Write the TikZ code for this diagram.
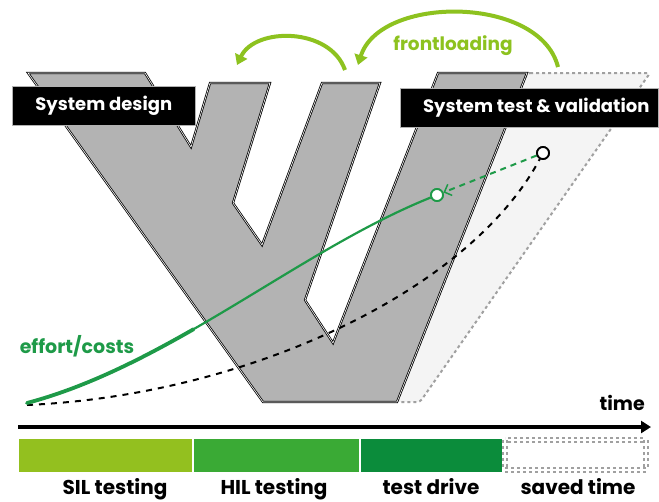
\documentclass[tikz,border=0pt]{standalone}
\usepackage{fontspec}
\setmainfont{Poppins}
\usetikzlibrary{arrows.meta}
\definecolor{wgray}{HTML}{B3B3B3}
\definecolor{lgray}{HTML}{F4F4F4}
\definecolor{dgray}{HTML}{A0A0A0}
\definecolor{flgreen}{HTML}{8DC21F}
\definecolor{cgreen}{HTML}{1E9A48}
\definecolor{silc}{HTML}{93C01F}
\definecolor{hilc}{HTML}{3AAA35}
\definecolor{tdc}{HTML}{0B8C3B}
\tikzset{
  wshape/.style={fill=wgray, draw=black, line width=0.8pt, double=white, double distance=0.6pt, line join=miter},
  savedarea/.style={fill=lgray, draw=dgray, dashed, line width=2pt, rounded corners=3pt},
  labelbox/.style={fill=black, text=white, font=\fontsize{18}{20}\selectfont\bfseries, inner sep=0pt, minimum height=39pt, draw=gray!60, line width=0.6pt},
  flarrow/.style={draw=flgreen, line width=4pt, -{Triangle[width=13pt,length=10pt]}},
  fltext/.style={text=flgreen, font=\fontsize{18.5}{20}\selectfont\bfseries},
  effort/.style={draw=cgreen, line width=2.2pt},
  effortthick/.style={draw=cgreen, line width=3.8pt, line cap=round},
  costdash/.style={draw=black, line width=2pt, dash pattern=on 6pt off 6pt},
  greendash/.style={draw=cgreen, line width=2pt, dash pattern=on 6pt off 5pt, -{Straight Barb[length=6pt,width=12pt,line width=1.5pt]}},
  pointc/.style={circle, fill=white, line width=1.8pt, minimum size=12pt, inner sep=0pt},
  timearrow/.style={draw=black, line width=4.5pt, -{Triangle[width=12pt,length=10pt]}},
  bar/.style={draw=white, line width=0.8pt},
  savedbar/.style={fill=white, draw=dgray, dashed, line width=1.6pt, double=white, double distance=2.5pt},
  barlabel/.style={font=\fontsize{20}{22}\selectfont\bfseries, anchor=base, inner sep=0pt},
  curvelabel/.style={text=cgreen, font=\fontsize{19}{21}\selectfont\bfseries, inner sep=0pt}
}
\begin{document}
\begin{tikzpicture}[x=1pt,y=-1pt]
\useasboundingbox (0,0) rectangle (659,501);

% saved-time area behind the V
\path[savedarea] (527,73) -- (650,73) -- (420,402) -- (397,402) -- cycle;

% the V shape
\path[wshape] (28,73) -- (145,73) -- (191,147) -- (210,83) -- (270,83) -- (233,203)
  -- (262,245) -- (322,83) -- (380,83) -- (305,300) -- (333,343) -- (438,73)
  -- (527,73) -- (397,402) -- (263,402) -- cycle;

% labels
\node[labelbox, minimum width=183pt, anchor=north west] (sd) at (12,86) {System design};
\node[labelbox, minimum width=258pt, anchor=north west] (st) at (400,88) {\hspace*{14pt}System test \& validation};

% circles
\node[pointc, draw=black] (bc) at (543,153) {};
\node[pointc, draw=cgreen] (gc) at (437,195) {};

% curves
\coordinate (o1) at (27,405);
\coordinate (o2) at (27,403);
\coordinate (t2) at (193.6,329.2);
\draw[costdash] (o1) .. controls (250,395) and (470,290) .. (bc);
\draw[effort] (o2) .. controls (170,365) and (300,250) .. (gc);
\draw[effortthick] (o2) .. controls (84.2,387.8) and (139.3,360.3) .. (t2);
\draw[greendash] (bc) -- (gc);
\node[pointc, draw=cgreen] at (gc) {};
\node[pointc, draw=black] at (bc) {};
\node[curvelabel] (ec) at (77,346) {effort/costs};

% frontloading arrows
\coordinate (f1s) at (345,70);
\coordinate (f1e) at (237,65);
\coordinate (f2s) at (558,67);
\coordinate (f2e) at (358,65);
\draw[flarrow] (f1s) .. controls (330,27) and (255,27) .. (f1e);
\draw[flarrow] (f2s) .. controls (540,-5) and (380,-5) .. (f2e);
\node[fltext] (fl) at (453,46) {frontloading};

% time axis
\coordinate (ta) at (18,427);
\coordinate (tb) at (651,427);
\draw[timearrow] (ta) -- (tb);
\node[font=\fontsize{19}{21}\selectfont\bfseries, anchor=base east, inner sep=0pt] (tl) at (645,410) {time};

% bars
\path[bar, fill=silc] (18,438) rectangle (192,472);
\path[bar, fill=hilc] (193,438) rectangle (359,472);
\path[bar, fill=tdc] (360,438) rectangle (502,472);
\path[savedbar] (505,440) rectangle (646,470);

\node[barlabel] (l1) at (115,494) {SIL testing};
\node[barlabel] (l2) at (274,494) {HIL testing};
\node[barlabel] (l3) at (431,494) {test drive};
\node[barlabel] (l4) at (578,494) {saved time};
\end{tikzpicture}
\end{document}
